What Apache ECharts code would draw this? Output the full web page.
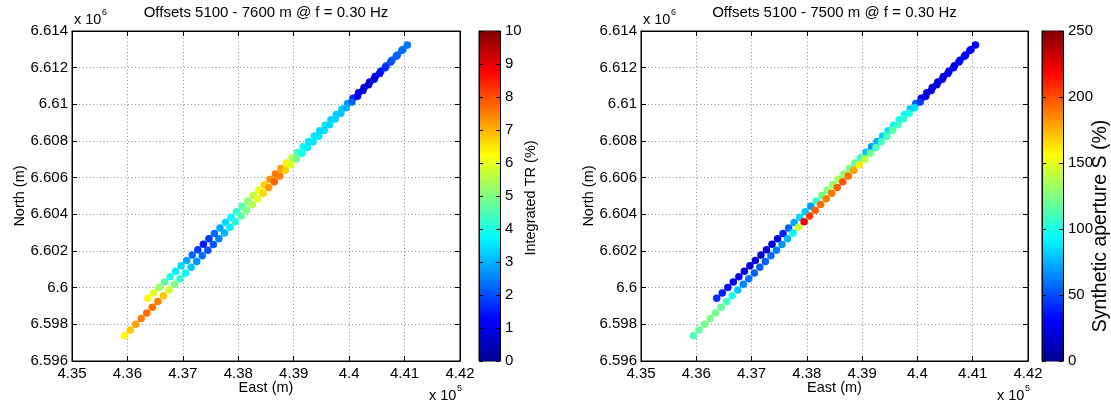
<!DOCTYPE html>
<html><head><meta charset="utf-8">
<script src="https://cdn.jsdelivr.net/npm/echarts@6/dist/echarts.min.js"></script>
<style>html,body{margin:0;padding:0;background:#fff}#c{width:1111px;height:403px}</style>
</head><body><div id="c"></div>
<script>
// ---------------- data ----------------
const titleLeft = 'Offsets 5100 - 7600 m @ f = 0.30 Hz';
const titleRight = 'Offsets 5100 - 7500 m @ f = 0.30 Hz';
const colorbarLeftName = 'Integrated TR (%)';
const colorbarRightName = 'Synthetic aperture S (%)';
const xName = 'East (m)';
const yName = 'North (m)';

// track A (upper-left line, starts near 4.3637e5 / 6.5994e6)
const trackA_E = [436370,436470,436570,436670,436770,436870,436970,437070,437170,437270,
  437370,437470,437570,437670,437770,437870,437970,438070,438170,438270,
  438370,438470,438570,438670,438770,438870,438970,439070,439170,439270,
  439370,439470,439570,439670,439770,439870,439970,440070,440170,440270,
  440370,440470,440570,440670,440770,440870,440970];
const trackA_N = [6599420,6599715,6600010,6600305,6600600,6600895,6601190,6601485,6601780,6602075,
  6602370,6602665,6602960,6603255,6603550,6603845,6604140,6604435,6604730,6605025,
  6605320,6605615,6605910,6606205,6606500,6606795,6607090,6607385,6607680,6607975,
  6608270,6608565,6608860,6609155,6609450,6609745,6610040,6610335,6610630,6610925,
  6611220,6611515,6611810,6612105,6612400,6612695,6612990];
// track B (lower line, starts near 4.3595e5 / 6.5974e6)
const trackB_E = [435950,436050,436150,436250,436350,436450,436550,436650,436750,436850,
  436950,437050,437150,437250,437350,437450,437550,437650,437750,437850,
  437950,438050,438150,438250,438350,438450,438550,438650,438750,438850,
  438950,439050,439150,439250,439350,439450,439550,439650,439750,439850,
  439950,440050,440150,440250,440350,440450,440550,440650,440750,440850,
  440950,441050];
const trackB_N = [6597380,6597690,6598000,6598315,6598625,6598935,6599245,6599555,6599870,6600180,
  6600490,6600800,6601110,6601425,6601735,6602045,6602355,6602665,6602980,6603290,
  6603600,6603910,6604220,6604535,6604845,6605155,6605465,6605775,6606090,6606400,
  6606710,6607020,6607330,6607645,6607955,6608265,6608575,6608885,6609200,6609510,
  6609820,6610130,6610440,6610755,6611065,6611375,6611685,6611995,6612310,6612620,
  6612930,6613240];

// Integrated TR (%) — left panel
const trA = [6.2,6.0,5.3,4.6,4.0,3.6,3.4,2.9,2.3,1.8,
  1.5,1.8,2.3,2.9,3.4,3.7,4.2,4.6,5.1,5.6,
  6.1,6.7,7.3,7.6,7.2,6.4,5.6,4.5,3.8,3.5,
  3.5,3.4,3.5,3.4,3.3,3.3,2.8,1.6,0.9,0.8,
  0.9,1.2,1.6,2.0,2.2,2.3,2.4];
const trB = [6.3,6.8,7.2,7.5,7.7,7.7,7.5,6.8,5.8,5.0,
  4.2,3.7,3.2,2.7,2.3,2.0,2.1,2.5,3.0,3.6,
  4.1,4.6,5.0,5.5,6.0,6.6,7.3,7.8,7.5,6.7,
  5.9,4.8,3.9,3.6,3.5,3.5,3.4,3.4,3.3,3.2,
  3.0,2.2,1.2,0.8,0.7,0.9,1.3,1.7,2.0,2.2,
  2.3,2.4];
// Synthetic aperture S (%) — right panel
const saA = [42,38,33,28,25,22,22,20,20,20,
  22,30,40,55,72,85,80,70,105,122,
  128,132,135,130,125,118,108,80,70,75,
  82,88,92,95,92,80,55,30,22,20,
  20,22,25,28,30,32,32];
const saB = [112,118,122,125,122,118,110,100,80,65,
  60,55,55,55,58,62,68,78,92,145,
  220,205,195,192,188,190,195,198,192,180,
  160,140,120,112,110,112,115,110,105,100,
  85,45,22,20,20,22,25,28,30,32,
  32,30];

const xRange = {min:435000, max:442000, interval:1000};
const yRange = {min:6596000, max:6614000, interval:2000};
const cbLeft = {min:0, max:10, interval:1};
const cbRight = {min:0, max:250, interval:50};

// ---------------- chart ----------------
const FONT = '"Liberation Sans", Arial, sans-serif';
const JET = ['#00008F','#0000FF','#0080FF','#00FFFF','#80FF80','#FFFF00','#FF8000','#FF0000','#800000'];
const TOP = 31, H = 330;
const P = [
  {gx:72, gw:388, cbx:479, cbw:21},
  {gx:641, gw:387, cbx:1042, cbw:21}
];
const fmtX = v => String(+(v/1e5).toFixed(4));
const fmtY = v => String(+(v/1e6).toFixed(4));

const chart = echarts.init(document.getElementById('c'), null, {renderer:'canvas'});
const grid = [], xAxis = [], yAxis = [], series = [], visualMap = [];
const black = {color:'#000', width:1};

function tickAxis(extra){
  return Object.assign({
    type:'value',
    axisLine:{show:true, onZero:false, lineStyle:black},
    axisTick:{show:true, inside:true, length:5, lineStyle:black},
    axisLabel:{show:false},
    splitLine:{show:false}
  }, extra);
}

function panel(p, tA, tB, cb){
  const g = grid.length;
  grid.push({left:p.gx, top:TOP, width:p.gw, height:H, show:true, borderColor:'#000', borderWidth:1, backgroundColor:'#fff', outerBoundsMode:'none', containLabel:false});
  grid.push({left:p.cbx, top:TOP, width:p.cbw, height:H, show:true, borderColor:'#000', borderWidth:1, outerBoundsMode:'none', containLabel:false});
  const x0 = xAxis.length, y0 = yAxis.length;
  xAxis.push(tickAxis(Object.assign({gridIndex:g, position:'bottom',
    axisLabel:{show:true, color:'#000', fontSize:15, fontFamily:FONT, margin:5, formatter:fmtX},
    splitLine:{show:true, lineStyle:{color:'#8c8c8c', width:1, type:[1,2.5]}}}, xRange)));
  xAxis.push(tickAxis(Object.assign({gridIndex:g, position:'top'}, xRange)));
  yAxis.push(tickAxis(Object.assign({gridIndex:g, position:'left',
    axisLabel:{show:true, color:'#000', fontSize:15, fontFamily:FONT, margin:4, formatter:fmtY},
    splitLine:{show:true, lineStyle:{color:'#8c8c8c', width:1, type:[1,2.5]}}}, yRange)));
  yAxis.push(tickAxis(Object.assign({gridIndex:g, position:'right'}, yRange)));
  xAxis.push({gridIndex:g+1, type:'category', data:[''], show:false});
  yAxis.push(tickAxis(Object.assign({gridIndex:g+1, position:'right', z:10, axisTick:{show:true, inside:true, length:4, lineStyle:black},
    axisLabel:{show:true, color:'#000', fontSize:15, fontFamily:FONT, margin:5}}, cb)));
  yAxis.push(tickAxis(Object.assign({gridIndex:g+1, position:'left', z:10, axisTick:{show:true, inside:true, length:4, lineStyle:black}}, cb)));

  const s0 = series.length;
  series.push({type:'scatter', xAxisIndex:x0, yAxisIndex:y0, symbol:'circle', symbolSize:7.5,
    data: trackA_E.map((e,i)=>[e, trackA_N[i], tA[i]]), itemStyle:{opacity:1}, silent:true});
  series.push({type:'scatter', xAxisIndex:x0, yAxisIndex:y0, symbol:'circle', symbolSize:7.5,
    data: trackB_E.map((e,i)=>[e, trackB_N[i], tB[i]]), itemStyle:{opacity:1}, silent:true});
  const stops = JET.map((c,i)=>({offset:i/(JET.length-1), color:c}));
  series.push({type:'bar', xAxisIndex:x0+2, yAxisIndex:y0+2, data:[cb.max], barWidth:'100%', silent:true,
    itemStyle:{color:new echarts.graphic.LinearGradient(0,1,0,0,stops)}});
  visualMap.push({type:'continuous', show:false, seriesIndex:[s0, s0+1], dimension:2, min:cb.min, max:cb.max, inRange:{color:JET}});
}
panel(P[0], trA, trB, cbLeft);
panel(P[1], saA, saB, cbRight);

function txt(text, x, y, size, align, extra){
  return Object.assign({type:'text', x:x, y:y, silent:true, z:20,
    style:{text:text, fill:'#000', font:size+'px '+FONT, fontSize:size, fontFamily:FONT,
      align:align||'center', verticalAlign:'middle', textAlign:align||'center', textVerticalAlign:'middle'}}, extra||{});
}
const graphic = [];
[[P[0], titleLeft, colorbarLeftName, 531, 198, 14.5],[P[1], titleRight, colorbarRightName, 1101, 226, 19.5]].forEach(([p, t, cbn, cbnx, cbny, cbfs])=>{
  const cx = p.gx + p.gw/2;
  graphic.push(txt(t, cx, 13, 15));
  graphic.push(txt(xName, cx, 388, 14.5));
  graphic.push(txt(yName, p.gx-52, TOP+H/2, 14.5, 'center', {rotation:Math.PI/2}));
  graphic.push(txt(cbn, cbnx, cbny, cbfs, 'center', {rotation:Math.PI/2}));
  graphic.push(txt('x 10', p.gx+2, 20, 14.5, 'left'));
  graphic.push(txt('6', p.gx+30, 13, 9, 'left'));
  graphic.push(txt('x 10', p.gx+p.gw-31, 396, 14.5, 'left'));
  graphic.push(txt('5', p.gx+p.gw-3, 389, 9, 'left'));
});

chart.setOption({
  animation:false,
  backgroundColor:'#fff',
  grid, xAxis, yAxis, series, visualMap, graphic
});
</script></body></html>
